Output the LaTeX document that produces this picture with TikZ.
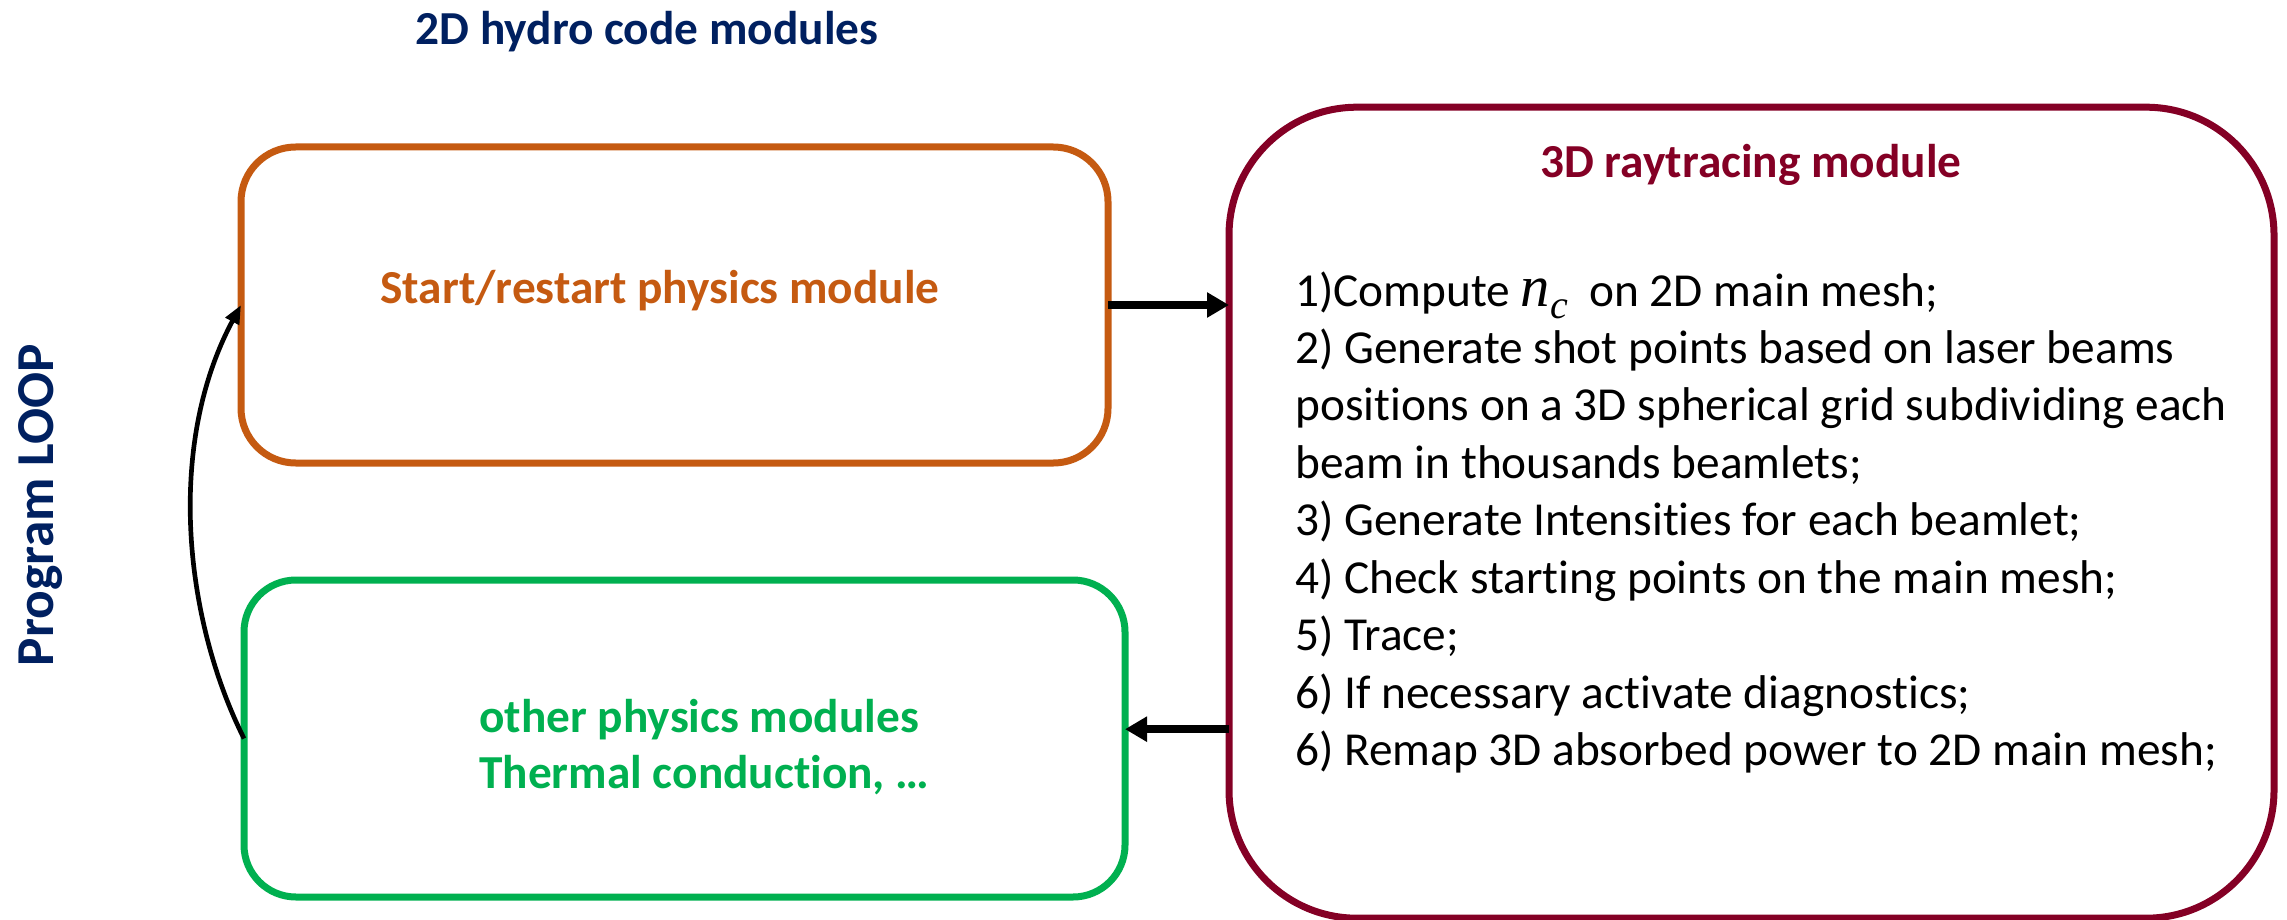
\documentclass[tikz,border=0pt]{standalone}
\usepackage{fontspec}
\setmainfont{Carlito}[Ligatures={NoCommon}]
\newfontfamily\mathlikefont{Liberation Serif}
\usetikzlibrary{arrows.meta}
\definecolor{navyblue}{HTML}{002060}
\definecolor{boxorange}{HTML}{C55A11}
\definecolor{boxgreen}{HTML}{00B050}
\definecolor{boxred}{HTML}{840025}
\newcommand{\ncsym}{{\mathlikefont\itshape\fontsize{44}{43.1}\selectfont n\raisebox{-0.22em}{\fontsize{30}{30}\selectfont c}}}
\begin{document}
\begin{tikzpicture}[x=0.75pt,y=-0.75pt,
  modbox/.style={draw=#1, line width=5.25pt, rectangle, inner sep=0pt, outer sep=0pt},
  bigarrow/.style={line width=6pt, -{Triangle[length=16.5pt,width=18pt]}},
  loopline/.style={line width=3.5pt, -{Triangle[length=14pt,width=11pt]}},
  headtext/.style={font=\fontsize{35.5}{43}\selectfont\bfseries},
  listtext/.style={font=\fontsize{35.5}{43.1}\selectfont},
  ]
\useasboundingbox (0,0) rectangle (2287,920);

% boxes
\node[modbox=boxorange, rounded corners=41pt, minimum width=650.25pt, minimum height=237pt] (orange) at (674.5,305) {};
\node[modbox=boxgreen, rounded corners=39pt, minimum width=660.75pt, minimum height=237.75pt] (green) at (684.5,738.5) {};
\node[modbox=boxred, rounded corners=96pt, minimum width=783.75pt, minimum height=608.25pt] (red) at (1751.5,512.7) {};

% texts
\node[headtext, text=navyblue, anchor=base] (title) at (647,45) {2D hydro code modules};
\node[font=\fontsize{40}{48}\selectfont\bfseries, text=navyblue, rotate=90, anchor=base] (loop) at (53,505) {Program LOOP};
\node[headtext, text=boxorange, anchor=base] (otext) at (660,303) {Start/restart physics module};
\node[font=\fontsize{35.5}{42}\selectfont\bfseries, text=boxgreen, anchor=base west, inner sep=0pt] (gtext) at (479,732)
  {\parbox[t]{500pt}{other physics modules\\Thermal conduction, …}};
\node[headtext, text=boxred, anchor=base] (rtitle) at (1751,177.5) {3D raytracing module};
\node[listtext, anchor=base west, inner sep=0pt] (rlist) at (1295,306)
  {\parbox[t]{760pt}{%
  1)Compute \ncsym\ \ on 2D main mesh;\\
  2) Generate shot points based on laser beams\\
  positions on a 3D spherical grid subdividing each\\
  beam in thousands beamlets;\\
  3) Generate Intensities for each beamlet;\\
  4) Check starting points on the main mesh;\\
  5) Trace;\\
  6) If necessary activate diagnostics;\\
  6) Remap 3D absorbed power to 2D main mesh;}};

% connectors
\coordinate (gin) at ([yshift=7pt]green.east);
\coordinate (rout) at (gin -| red.west);
\draw[bigarrow] (orange.east) -- (orange.east -| red.west);
\draw[bigarrow] (rout) -- (gin);
\draw[loopline] (green.west) .. controls +(-60,-120) and +(-75,140) .. (orange.west);
\end{tikzpicture}
\end{document}
